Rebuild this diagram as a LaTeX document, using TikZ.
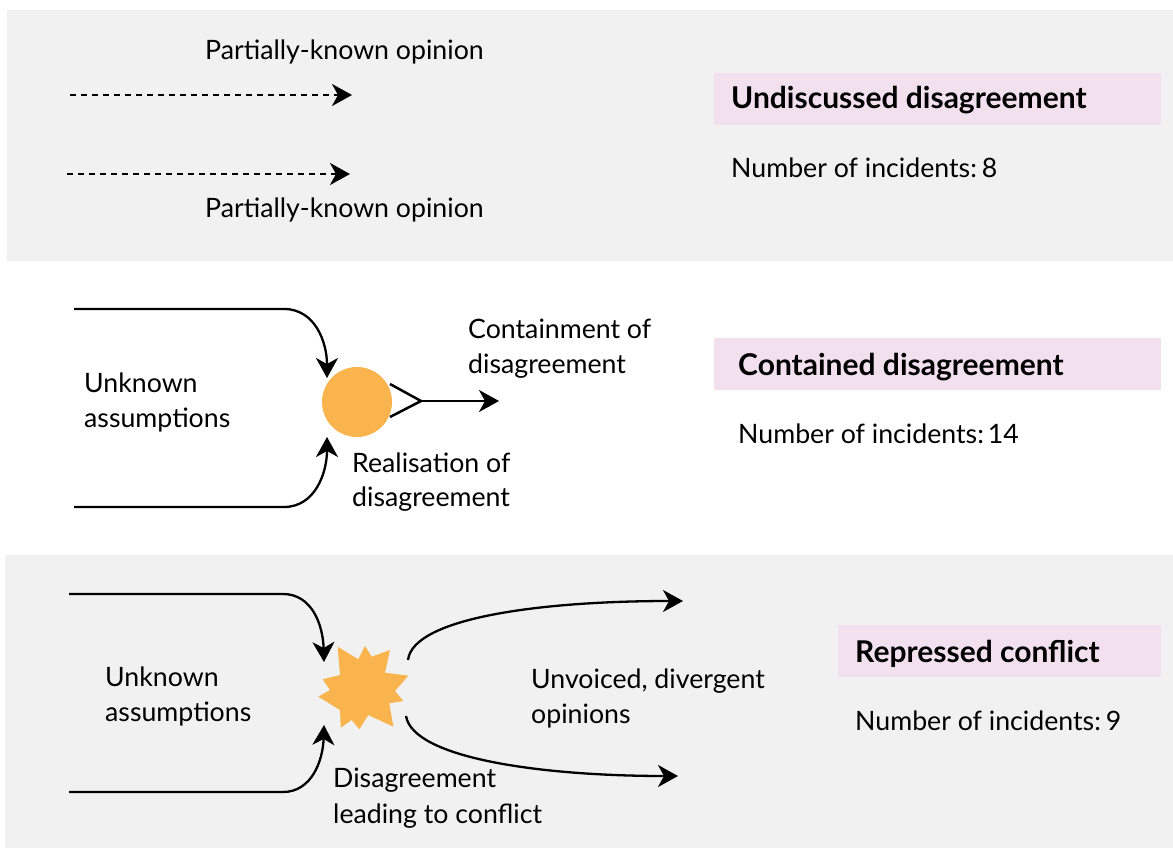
\documentclass[tikz,border=0pt]{standalone}
\usepackage{fontspec}
\setmainfont{Lato}
\usetikzlibrary{arrows.meta}
\definecolor{panelgray}{HTML}{F1F1F1}
\definecolor{titlepink}{HTML}{F2E0EE}
\definecolor{burst}{HTML}{F9B44E}

\begin{document}
\begin{tikzpicture}[x=1pt,y=-1pt,
  lbl/.style={anchor=base west, inner sep=0pt, font=\fontsize{26.7}{30}\selectfont},
  ttl/.style={anchor=base west, inner sep=0pt, font=\fontsize{30}{34}\selectfont\bfseries},
  titlebox/.style={anchor=north west, fill=titlepink, inner sep=0pt, minimum height=52pt},
  flow/.style={line width=2.3pt, -{Stealth[length=20pt,width=22pt,inset=6pt]}},
  dashflow/.style={line width=2pt, dash pattern=on 6pt off 5pt, -{Stealth[length=20pt,width=22pt,inset=6pt]}},
  stroke/.style={line width=2.5pt}
]
\useasboundingbox (0,0) rectangle (1173,848);

% panel backgrounds
\fill[panelgray] (7,10) rectangle (1173,261);
\fill[panelgray] (5,555) rectangle (1173,848);

% ---------- undiscussed disagreement ----------
\node[lbl] (p1) at (205,60) {Partially-known opinion};
\node[lbl] (p2) at (205,217) {Partially-known opinion};
\coordinate (d1s) at (70,95);
\coordinate (d1e) at (352,95);
\coordinate (d2s) at (67,174);
\coordinate (d2e) at (350,174);
\draw[dashflow] (d1s) -- (d1e);
\draw[dashflow] (d2s) -- (d2e);

\node[titlebox, minimum width=447pt] (b1) at (714,73) {};
\node[ttl] (t1) at (731,109) {Undiscussed disagreement};
\node[lbl] (n1) at (731,178) {Number of incidents:\kern-2pt\ 8};

% ---------- contained disagreement ----------
\node[circle, fill=burst, minimum size=70pt, inner sep=0pt] (real) at (357,402) {};
\coordinate (in1) at (74,309);
\coordinate (in1t) at (327,378);
\coordinate (in2) at (74,507);
\coordinate (in2t) at (327,437);
\draw[flow] (in1) -- (284,309) .. controls (315,309) and (327,342) .. (in1t);
\draw[flow] (in2) -- (284,507) .. controls (315,507) and (327,473) .. (in2t);
\coordinate (vtx) at (421,401);
\coordinate (vup) at (390,384);
\coordinate (vdn) at (390,417);
\coordinate (cont) at (499,401);
\draw[stroke] (vup) -- (vtx) -- (vdn);
\draw[flow] (vtx) -- (cont);

\node[lbl] (u1) at (84,392) {Unknown};
\node[lbl] (u2) at (84,427) {assumptions};
\node[lbl] (r1) at (352,472) {Realisation of};
\node[lbl] (r2) at (352,506) {disagreement};
\node[lbl] (c1) at (468,338) {Containment of};
\node[lbl] (c2) at (468,373) {disagreement};

\node[titlebox, minimum width=447pt] (b2) at (714,338) {};
\node[ttl] (t2) at (738,375) {Contained disagreement};
\node[lbl] (n2) at (738,443) {Number of incidents:\kern-3pt\ 14};

% ---------- repressed conflict ----------
\fill[burst] (337.7,646.7) -- (358.3,659.3) -- (365,646) -- (371.7,656.7)
  -- (390,650) -- (385,672.7) -- (408.3,675.7) -- (395,691)
  -- (403.3,701) -- (389.3,703.3) -- (393.3,726.7) -- (368.3,715)
  -- (359.3,729.3) -- (351.7,720) -- (340.7,727.7) -- (340,710)
  -- (318.3,696.7) -- (330,690) -- (322.7,679.3) -- (340,675) -- cycle;
\coordinate (burstc) at (363,688);
\coordinate (in3) at (69,594);
\coordinate (in3t) at (324,662);
\coordinate (in4) at (69,792);
\coordinate (in4t) at (324,725);
\draw[flow] (in3) -- (283,594) .. controls (312,594) and (323,625) .. (in3t);
\draw[flow] (in4) -- (283,792) .. controls (312,792) and (323,760) .. (in4t);
\coordinate (o1s) at (408,660);
\coordinate (o1t) at (683,601);
\coordinate (o2s) at (406,716);
\coordinate (o2t) at (678,776);
\draw[flow] (o1s) .. controls (413,618) and (540,601) .. (o1t);
\draw[flow] (o2s) .. controls (413,758) and (540,776) .. (o2t);

\node[lbl] (u3) at (105,686) {Unknown};
\node[lbl] (u4) at (105,721) {assumptions};
\node[lbl] (v1) at (531,688) {Unvoiced, divergent};
\node[lbl] (v2) at (531,723) {opinions};
\node[lbl] (g1) at (333,787) {Disagreement};
\node[lbl] (g2) at (333,823) {leading to conflict};

\node[titlebox, minimum width=323pt] (b3) at (838,625) {};
\node[ttl] (t3) at (855,662) {Repressed conflict};
\node[lbl] (n3) at (855,730) {Number of incidents:\kern-2pt\ 9};
\end{tikzpicture}
\end{document}
